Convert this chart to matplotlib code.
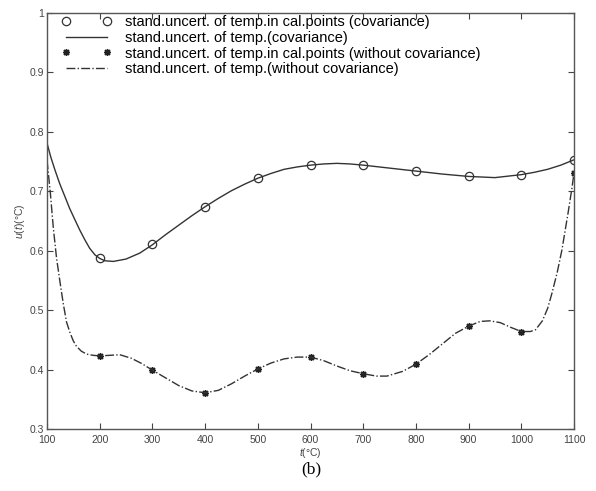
import matplotlib.pyplot as plt
from matplotlib.ticker import MultipleLocator

# calibration points
t_points = [200, 300, 400, 500, 600, 700, 800, 900, 1000, 1100]
u_cov_points = [0.587, 0.611, 0.674, 0.722, 0.744, 0.744, 0.734, 0.725, 0.728, 0.752]
u_nocov_points = [0.423, 0.399, 0.361, 0.401, 0.421, 0.393, 0.409, 0.473, 0.464, 0.731]

# curve (covariance)
t_cov = [100, 107, 115, 124, 134, 143, 153, 162, 172, 181, 191, 200, 210, 226,
         250, 276, 300, 325, 350, 375, 400, 425, 450, 475, 500, 525, 550, 575,
         600, 625, 650, 675, 700, 750, 800, 850, 900, 950, 1000, 1025, 1050,
         1075, 1100]
u_cov = [0.781, 0.758, 0.736, 0.713, 0.691, 0.671, 0.652, 0.635, 0.618, 0.604,
         0.593, 0.587, 0.583, 0.582, 0.586, 0.596, 0.610, 0.627, 0.643, 0.659,
         0.674, 0.688, 0.701, 0.712, 0.722, 0.730, 0.737, 0.741, 0.744, 0.746,
         0.747, 0.746, 0.744, 0.739, 0.734, 0.729, 0.725, 0.723, 0.728, 0.732,
         0.737, 0.744, 0.753]

# curve (without covariance)
t_nocov = [100, 106, 112, 118, 125, 131, 137, 144, 150, 156, 165, 175, 187, 200,
           220, 238, 260, 280, 300, 325, 350, 375, 400, 425, 450, 475, 500, 525,
           550, 575, 600, 625, 650, 675, 700, 725, 745, 775, 800, 825, 850, 875,
           900, 922, 940, 960, 980, 1000, 1017, 1027, 1040, 1050, 1058, 1068,
           1077, 1089, 1096, 1100]
u_nocov = [0.752, 0.700, 0.638, 0.588, 0.545, 0.510, 0.480, 0.461, 0.448, 0.439,
           0.431, 0.426, 0.424, 0.423, 0.424, 0.425, 0.419, 0.410, 0.399, 0.386,
           0.373, 0.364, 0.361, 0.365, 0.376, 0.389, 0.401, 0.411, 0.418, 0.421,
           0.421, 0.415, 0.406, 0.398, 0.393, 0.389, 0.389, 0.397, 0.409, 0.425,
           0.443, 0.461, 0.473, 0.481, 0.482, 0.479, 0.471, 0.464, 0.464, 0.467,
           0.482, 0.503, 0.528, 0.563, 0.601, 0.665, 0.705, 0.731]

plt.rcParams['font.family'] = ['Liberation Sans', 'DejaVu Sans']
plt.rcParams['mathtext.fontset'] = 'custom'
plt.rcParams['mathtext.it'] = 'Liberation Sans:italic'

fig = plt.figure(figsize=(5.96, 4.91), dpi=100)
ax = fig.add_axes([0.0789, 0.1263, 0.8842, 0.8472])

ax.plot(t_points, u_cov_points, 'o', color='#333333', mfc='none', ms=6, mew=0.9,
        label='stand.uncert. of temp.in cal.points (covariance)')
ax.plot(t_cov, u_cov, '-', color='#333333', lw=1.0,
        label='stand.uncert. of temp.(covariance)')
ax.plot(t_points, u_nocov_points, marker=(8, 2, 0), ls='none', color='#222222',
        ms=5, mew=1.0,
        label='stand.uncert. of temp.in cal.points (without covariance)')
ax.plot(t_nocov, u_nocov, '-.', color='#333333', lw=1.0,
        label='stand.uncert. of temp.(without covariance)')

ax.set_xlim(100, 1100)
ax.set_ylim(0.3, 1.0)
ax.xaxis.set_major_locator(MultipleLocator(100))
ax.yaxis.set_major_locator(MultipleLocator(0.1))
ax.yaxis.set_major_formatter(plt.FuncFormatter(lambda v, p: '1' if abs(v - 1) < 1e-6 else '%.1f' % v))
ax.tick_params(direction='in', top=True, right=True, length=4, width=0.8,
               labelsize=7.5, colors='#444444')
ax.tick_params(axis='x', pad=4)
ax.tick_params(axis='y', pad=2)
for s in ax.spines.values():
    s.set_color('#555555')
    s.set_linewidth(1.0)

ax.set_xlabel('$t$(°C)', fontsize=7.5, color='#444444', labelpad=1)
ax.set_ylabel('$u$($t$)(°C)', fontsize=7.5, color='#444444', labelpad=2)

ax.legend(loc='upper left', frameon=False, numpoints=2, fontsize=10.5,
          handlelength=3.4, handletextpad=0.9, labelspacing=0.12,
          borderpad=0, borderaxespad=0, bbox_to_anchor=(0.0285, 0.995))

fig.text(0.523, 0.045, '(b)', family='Liberation Serif', fontsize=12.5,
         ha='center', va='center')

fig.savefig('out.png', dpi=100)
